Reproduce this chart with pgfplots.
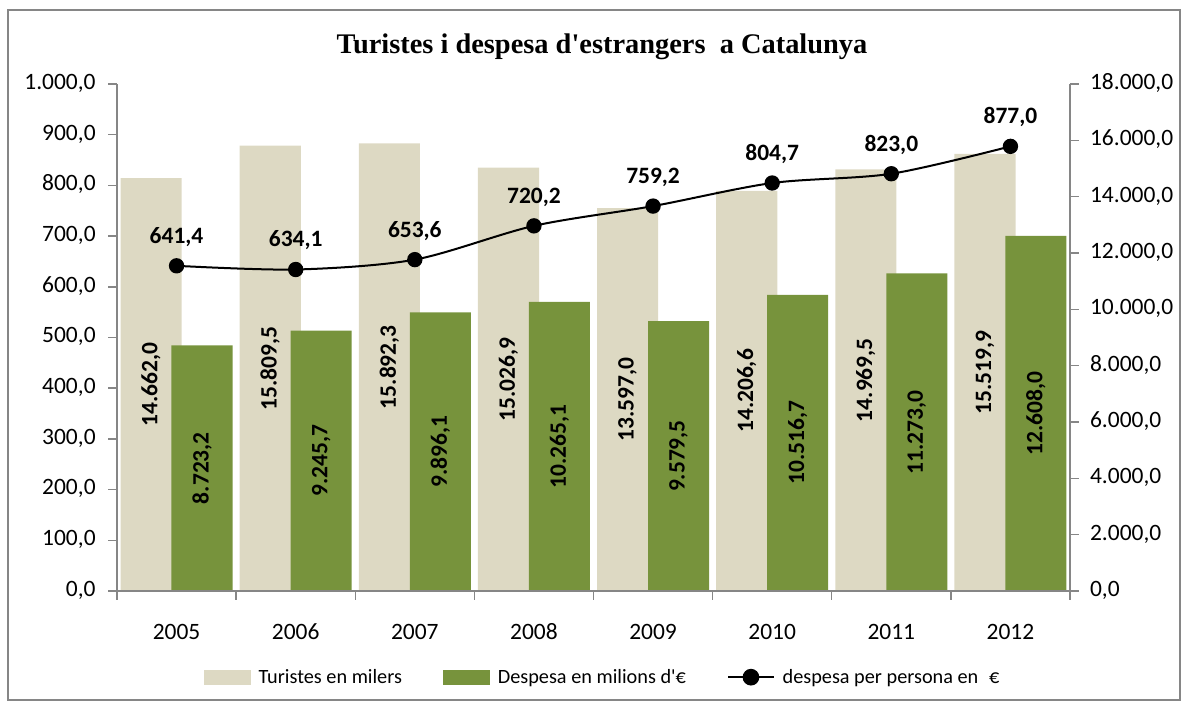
\documentclass[border=0pt]{standalone}
\usepackage{pgfplots}
\pgfplotsset{compat=1.18}
\usepackage{pgfplotstable}
\usepackage{fontspec}
\setmainfont{Carlito}
\newfontfamily\titlefont{Liberation Serif}
\definecolor{tanc}{HTML}{DDD9C3}
\definecolor{olivec}{HTML}{77933C}
\definecolor{axgray}{HTML}{868686}
\pgfplotstableread{
x t d p
0 14662.0 8723.2 641.4
1 15809.5 9245.7 634.1
2 15892.3 9896.1 653.6
3 15026.9 10265.1 720.2
4 13597.0 9579.5 759.2
5 14206.6 10516.7 804.7
6 14969.5 11273.0 823.0
7 15519.9 12608.0 877.0
}\data
\pgfplotsset{
  common/.style={
    scale only axis, width=714.75pt, height=380.25pt,
    at={(0pt,0pt)}, anchor=south west,
    xmin=-0.5, xmax=7.5,
    axis x line*=bottom,
    tick align=outside,
    major tick length=6.5pt,
    axis line style={axgray, line width=1.1pt},
    tick style={axgray, line width=1.1pt},
    ticklabel style={font=\fontsize{17.6}{20}\selectfont},
    typeset ticklabels with strut,
    scaled y ticks=false,
    clip=false,
    /pgf/number format/.cd, fixed, fixed zerofill, precision=1, use comma, 1000 sep={.}, assume math mode=true,
    /pgfplots/.cd
  }
}
\begin{document}
\begin{tikzpicture}
\useasboundingbox (-87.75pt,-84.75pt) rectangle (804pt,443.25pt);
\draw[axgray, line width=0.9pt] (-81.75pt,-81.75pt) rectangle (797.25pt,435.75pt);
\node[font=\titlefont\bfseries\fontsize{21.3}{25}\selectfont] at (363.75pt,408.5pt) {Turistes i despesa d\textquotesingle estrangers~ a Catalunya};
% right axis: bars
\begin{axis}[common,
  axis y line*=right,
  ymin=0, ymax=18000, ytick={0,2000,...,18000},
  xtick={-0.5,0.5,...,7.5}, xticklabels={},
  yticklabel style={xshift=5pt},
]
\addplot[ybar, bar width=0.513, bar shift=-0.214, fill=tanc, draw=none] table[x=x,y=t]{\data};
\addplot[ybar, bar width=0.513, bar shift=0.214, fill=olivec, draw=none] table[x=x,y=d]{\data};
\addplot[draw=none, mark=none, nodes near coords, point meta=explicit,
  every node near coord/.append style={rotate=90, anchor=center, font=\bfseries\fontsize{17.6}{20}\selectfont}]
  table[x expr=\thisrow{x}-0.214, y expr=\thisrow{t}/2, meta=t]{\data};
\addplot[draw=none, mark=none, nodes near coords, point meta=explicit,
  every node near coord/.append style={rotate=90, anchor=center, font=\bfseries\fontsize{17.6}{20}\selectfont}]
  table[x expr=\thisrow{x}+0.214, y expr=\thisrow{d}/2, meta=d]{\data};
\end{axis}
% left axis: line
\begin{axis}[common,
  axis y line*=left,
  ymin=0, ymax=1000, ytick={0,100,...,1000},
  yticklabel style={xshift=-6pt},
  xtick={0,...,7}, xticklabels={2005,2006,2007,2008,2009,2010,2011,2012},
  xtick style={draw=none},
  xticklabel style={yshift=-12pt},
  legend columns=3,
  legend style={draw=none, fill=none, at={(0.51,-0.17)}, anchor=center,
    font=\fontsize{15.2}{18}\selectfont,
    /tikz/every odd column/.append style={column sep=4pt},
    /tikz/every even column/.append style={column sep=29pt}},
]
\addlegendimage{legend image code/.code={\fill[tanc] (0pt,-5.5pt) rectangle (34.5pt,5.5pt);}}
\addlegendentry{Turistes en milers}
\addlegendimage{legend image code/.code={\fill[olivec] (0pt,-5.5pt) rectangle (34.5pt,5.5pt);}}
\addlegendentry{Despesa en milions d\textquotesingle €}
\addplot[black, line width=1.5pt, smooth, mark=*, mark size=5pt, mark options={fill=black},
  nodes near coords, point meta=explicit,
  every node near coord/.append style={anchor=south, yshift=10.5pt, font=\bfseries\fontsize{17.6}{20}\selectfont},
  legend image code/.code={\draw[black, line width=1.5pt] (0pt,0pt) -- (34pt,0pt); \fill[black] (17pt,0pt) circle (5.5pt);}]
  table[x=x,y=p,meta=p]{\data};
\addlegendentry{despesa per persona en\hspace{0.3em} €}
\end{axis}
\end{tikzpicture}
\end{document}
